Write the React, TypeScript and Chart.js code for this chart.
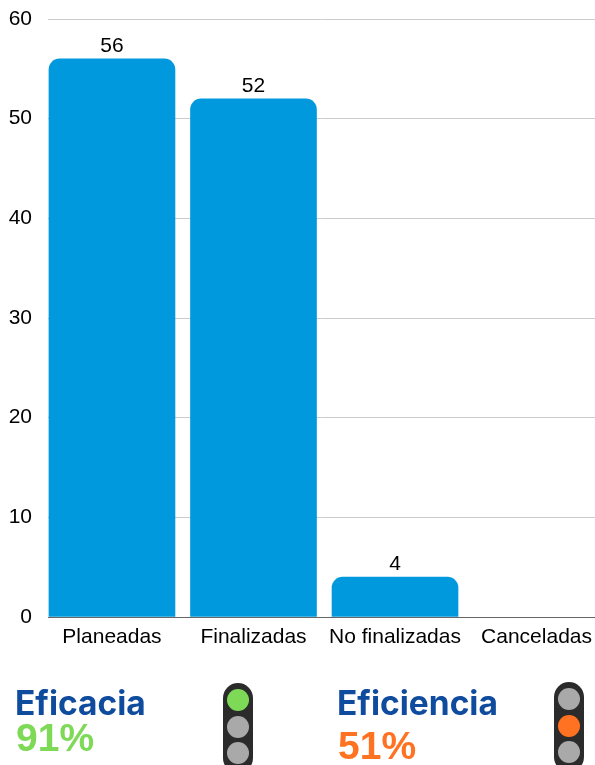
import React, { useEffect, useRef } from "react";
import { Chart, registerables } from "chart.js";

Chart.register(...registerables);

const categories = ["Planeadas", "Finalizadas", "No finalizadas", "Canceladas"];
const values = [56, 52, 4, 0];
const yMax = 60;
const yStep = 10;

const kpis = [
  { title: "Eficacia", value: "91%", color: "#7ed957", titleX: 15, titleY: 680, valueX: 16, valueY: 715, lightX: 223, lightY: 683, active: 0 },
  { title: "Eficiencia", value: "51%", color: "#ff7222", titleX: 337, titleY: 680, valueX: 338, valueY: 723, lightX: 554, lightY: 682, active: 1 },
];
const lampCount = [0, 1, 2];

const valueLabels = {
  id: "valueLabels",
  afterDatasetsDraw(chart: any) {
    const { ctx } = chart;
    const meta = chart.getDatasetMeta(0);
    ctx.save();
    ctx.font = '21px "Liberation Sans"';
    ctx.fillStyle = "#000";
    ctx.textAlign = "center";
    ctx.textBaseline = "alphabetic";
    meta.data.forEach((el: any, i: number) => {
      if (values[i] > 0) ctx.fillText(String(values[i]), el.x, el.y - 7);
    });
    ctx.restore();
  },
};

export default function App() {
  const ref = useRef<HTMLCanvasElement>(null);
  useEffect(() => {
    const chart = new Chart(ref.current!, {
      type: "bar",
      data: {
        datasets: [
          {
            data: values.map((v, i) => ({ x: i, y: v })),
            backgroundColor: (c: any) => (values[c.dataIndex] > 0 ? "#0099dd" : "rgba(0,0,0,0)"),
            borderRadius: 11,
            borderSkipped: "start",
            barThickness: 126,
          },
        ],
      },
      options: {
        responsive: false,
        animation: false,
        layout: { padding: { top: 19, left: 0, right: 0, bottom: 0 }, autoPadding: false },
        plugins: { legend: { display: false }, tooltip: { enabled: false } },
        scales: {
          x: {
            type: "linear",
            offset: false,
            min: -0.452,
            max: 3.413,
            afterFit: (s: any) => { s.height = 148; },
            afterBuildTicks: (s: any) => { s.ticks = categories.map((_, i) => ({ value: i })); },
            grid: { display: false },
            border: { display: true, color: "#666666", width: 1 },
            ticks: {
              autoSkip: false,
              maxRotation: 0,
              minRotation: 0,
              padding: 0,
              color: "#000",
              font: { family: '"Liberation Sans"', size: 21 },
              callback: (v: any) => categories[v as number],
            },
          },
          y: {
            min: 0,
            max: yMax,
            afterFit: (s: any) => { s.width = 48; s.paddingTop = 0; s.paddingBottom = 0; },
            grid: { color: "#cccccc", drawTicks: false },
            border: { display: false },
            ticks: {
              stepSize: yStep,
              padding: 16,
              color: "#000",
              font: { family: '"Liberation Sans"', size: 21 },
            },
          },
        },
      },
      plugins: [valueLabels],
    } as any);
    return () => chart.destroy();
  }, []);

  return (
    <div style={{ position: "fixed", left: 0, top: 0, width: 595, height: 765, overflow: "hidden", background: "#fff" }}>
      <canvas ref={ref} width={595} height={765} style={{ position: "absolute", left: 0, top: 0, display: "block" }} />
      {kpis.map((k) => (
        <React.Fragment key={k.title}>
          <div style={{ position: "absolute", left: k.titleX, top: k.titleY, font: '700 33.5px/46px Inter', color: "#0f4c9e", whiteSpace: "nowrap" }}>{k.title}</div>
          <div style={{ position: "absolute", left: k.valueX, top: k.valueY, font: '700 39px/46px "Liberation Sans"', color: k.color, whiteSpace: "nowrap" }}>{k.value}</div>
          <div style={{ position: "absolute", left: k.lightX, top: k.lightY, width: 30, height: 90, borderRadius: 15, background: "#2b2b2b" }}>
            {lampCount.map((n) => (
              <div key={n} style={{ position: "absolute", left: 4, top: 6 + n * 26.5, width: 22, height: 22, borderRadius: 11, background: n === k.active ? k.color : "#a9a9a9" }} />
            ))}
          </div>
        </React.Fragment>
      ))}
    </div>
  );
}
